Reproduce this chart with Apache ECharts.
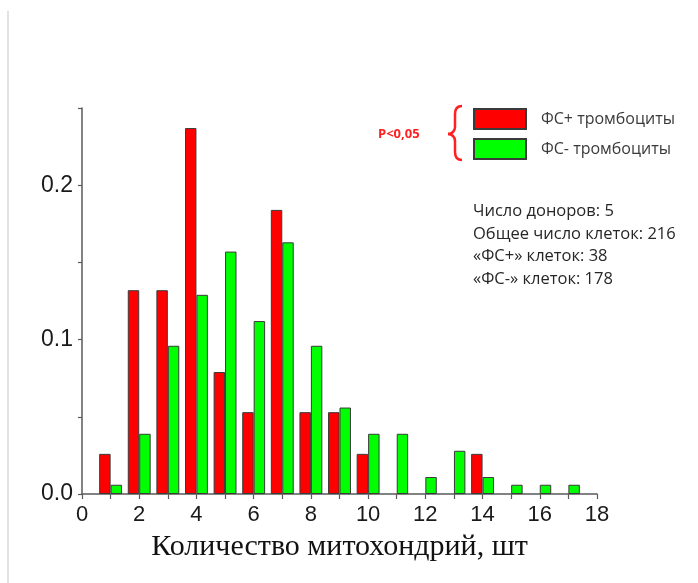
<!DOCTYPE html>
<html>
<head>
<meta charset="utf-8">
<script src="https://cdn.jsdelivr.net/npm/echarts@6/dist/echarts.min.js"></script>
<style>
html,body{margin:0;padding:0;background:#fff;}
#chart{width:698px;height:583px;}
</style>
</head>
<body>
<div id="chart"></div>
<script>
// Data
const positions = [1,2,3,4,5,6,7,8,9,10,11,12,13,14,15,16,17];
const redX      = [1,2,3,4,5,6,7,8,9,10,14];
const redVals   = [0.026,0.132,0.132,0.237,0.079,0.053,0.184,0.053,0.053,0.026,0.026];
const greenVals = [0.006,0.039,0.096,0.129,0.157,0.112,0.163,0.096,0.056,0.039,0.039,0.011,0.028,0.011,0.006,0.006,0.006];
const seriesNames = ['ФС+ тромбоциты','ФС- тромбоциты'];
const xLabelStep = 2;
const yLabelStep = 0.1;
const xAxisName = 'Количество митохондрий, шт';
const pText = 'P<0,05';
const infoLines = ['Число доноров: 5','Общее число клеток: 216','«ФС+» клеток: 38','«ФС-» клеток: 178'];

const chart = echarts.init(document.getElementById('chart'), null, {renderer:'canvas'});
const axisColor = '#5a5a5a';
const braceStyle = {stroke:'#ff2020', lineWidth:2.5, fill:null};

chart.setOption({
  animation:false,
  backgroundColor:'#ffffff',
  grid:{left:82, right:101, top:108, bottom:89, containLabel:false},
  legend:{
    orient:'vertical', left:473, top:108, padding:0,
    itemWidth:52, itemHeight:20, itemGap:8,
    icon:'rect',
    textStyle:{fontFamily:'Open Sans', fontSize:16, color:'#3a3a3a', padding:[0,0,0,10]},
    data:seriesNames
  },
  xAxis:{
    type:'value', min:0, max:18, interval:1,
    name:xAxisName, nameLocation:'middle', nameGap:38,
    nameTextStyle:{fontFamily:'Liberation Serif', fontSize:30, color:'#111'},
    axisLine:{show:true, lineStyle:{color:axisColor, width:1.5}},
    axisTick:{show:true, length:5, lineStyle:{color:axisColor, width:1.2}},
    splitLine:{show:false},
    axisLabel:{
      fontFamily:'Liberation Sans', fontSize:22, color:'#1a1a1a', margin:10,
      formatter:v => (Math.round(v) % xLabelStep === 0 ? String(Math.round(v)) : '')
    }
  },
  yAxis:{
    type:'value', min:0, max:0.25, interval:0.05,
    axisLine:{show:true, lineStyle:{color:axisColor, width:1.5}},
    axisTick:{show:true, length:4, lineStyle:{color:axisColor, width:1.2}},
    splitLine:{show:false},
    axisLabel:{
      fontFamily:'Liberation Sans', fontSize:23, color:'#1a1a1a', margin:9,
      formatter:v => {
        const k = Math.round(v*100);
        return (k % Math.round(yLabelStep*100) === 0) ? (k/100).toFixed(1) : '';
      }
    }
  },
  series:[
    {
      name:seriesNames[0], type:'bar', barGap:'0%', barCategoryGap:'20%',
      itemStyle:{color:'#ff0000', borderColor:'#3a3a3a', borderWidth:1},
      data:redX.map((x,i)=>[x, redVals[i]])
    },
    {
      name:seriesNames[1], type:'bar', barGap:'0%', barCategoryGap:'20%',
      itemStyle:{color:'#00ff00', borderColor:'#3a3a3a', borderWidth:1},
      data:positions.map((x,i)=>[x, greenVals[i]])
    }
  ],
  graphic:[
    {type:'line', shape:{x1:8, y1:11, x2:8, y2:583}, style:{stroke:'#e2e2e2', lineWidth:2}},
    {type:'text', left:378, top:128, style:{text:pText, fontFamily:'Open Sans', fontWeight:'bold', fontSize:13, fill:'#ff2020'}},
    {type:'bezierCurve', shape:{x1:462,y1:106,x2:455,y2:114,cpx1:457,cpy1:106,cpx2:455,cpy2:109}, style:braceStyle},
    {type:'line', shape:{x1:455,y1:114,x2:455,y2:127}, style:braceStyle},
    {type:'bezierCurve', shape:{x1:455,y1:127,x2:448,y2:134,cpx1:455,cpy1:131,cpx2:452,cpy2:134}, style:braceStyle},
    {type:'bezierCurve', shape:{x1:448,y1:134,x2:455,y2:141,cpx1:452,cpy1:134,cpx2:455,cpy2:137}, style:braceStyle},
    {type:'line', shape:{x1:455,y1:141,x2:455,y2:152}, style:braceStyle},
    {type:'bezierCurve', shape:{x1:455,y1:152,x2:462,y2:160,cpx1:455,cpy1:157,cpx2:457,cpy2:160}, style:braceStyle},
    {type:'text', left:473, top:200, style:{text:infoLines.join('\n'), fontFamily:'Open Sans', fontSize:16.5, lineHeight:22.7, fill:'#262626'}}
  ]
});
</script>
</body>
</html>
